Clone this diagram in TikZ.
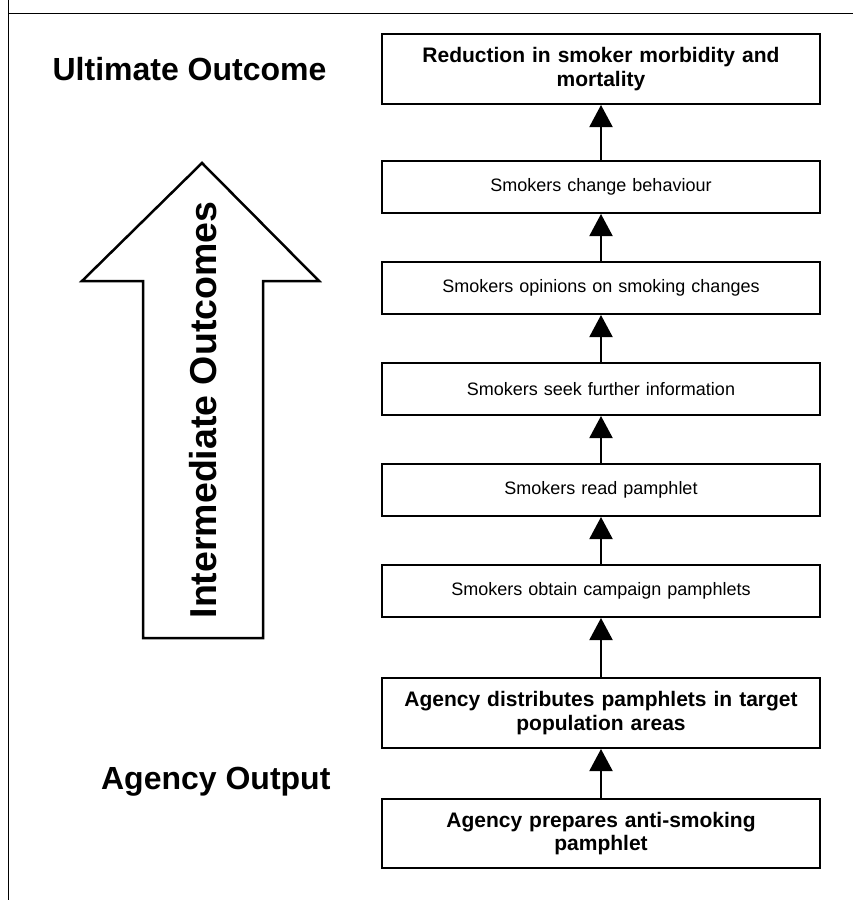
\documentclass[tikz,border=0pt]{standalone}
\usepackage{fontspec}
\setmainfont{Liberation Sans}
\usetikzlibrary{arrows.meta}
\begin{document}
\begin{tikzpicture}[x=1pt,y=-1pt,
  box/.style={draw,line width=2pt,minimum width=438pt,inner sep=0pt,align=center,text width=420pt},
  sbox/.style={box,minimum height=52pt,font=\fontsize{18}{21}\selectfont},
  bbox/.style={box,minimum height=70pt,font=\fontsize{21}{23.5}\selectfont\bfseries},
  flow/.style={line width=2pt,-{Triangle[width=23pt,length=22pt]}},
  head/.style={font=\fontsize{32}{36}\selectfont\bfseries}]
\useasboundingbox (0,0) rectangle (853,900);
\draw[line width=1pt] (8.5,0) -- (8.5,900);
\draw[line width=1pt] (8.5,13) -- (853,13);
\node[bbox] (b1) at (601,69) {Reduction in smoker morbidity and\\mortality};
\node[sbox] (b2) at (601,187) {Smokers change behaviour};
\node[sbox] (b3) at (601,288) {Smokers opinions on smoking changes};
\node[sbox] (b4) at (601,389) {Smokers seek further information};
\node[sbox] (b5) at (601,490) {Smokers read pamphlet};
\node[sbox] (b6) at (601,591) {Smokers obtain campaign pamphlets};
\node[bbox] (b7) at (601,713) {Agency distributes pamphlets in target\\population areas};
\node[bbox,minimum height=69pt] (b8) at (601,833.5) {Agency prepares anti-smoking\\pamphlet};
\foreach \a/\b in {b2/b1,b3/b2,b4/b3,b5/b4,b6/b5,b7/b6,b8/b7}
  \draw[flow] (\a.north) -- (\b.south);
\node[head,anchor=east] (uo) at (330,69) {Ultimate Outcome};
\node[head,anchor=east] (ao) at (334,782) {Agency Output};
\draw[line width=2.5pt,line join=miter] (202,163) -- (319,281) -- (263,281) -- (263,638) -- (143,638) -- (143,281) -- (82,281) -- cycle;
\node[rotate=90,font=\fontsize{37.5}{40}\selectfont\bfseries] (io) at (203,410) {Intermediate Outcomes};
\end{tikzpicture}
\end{document}
